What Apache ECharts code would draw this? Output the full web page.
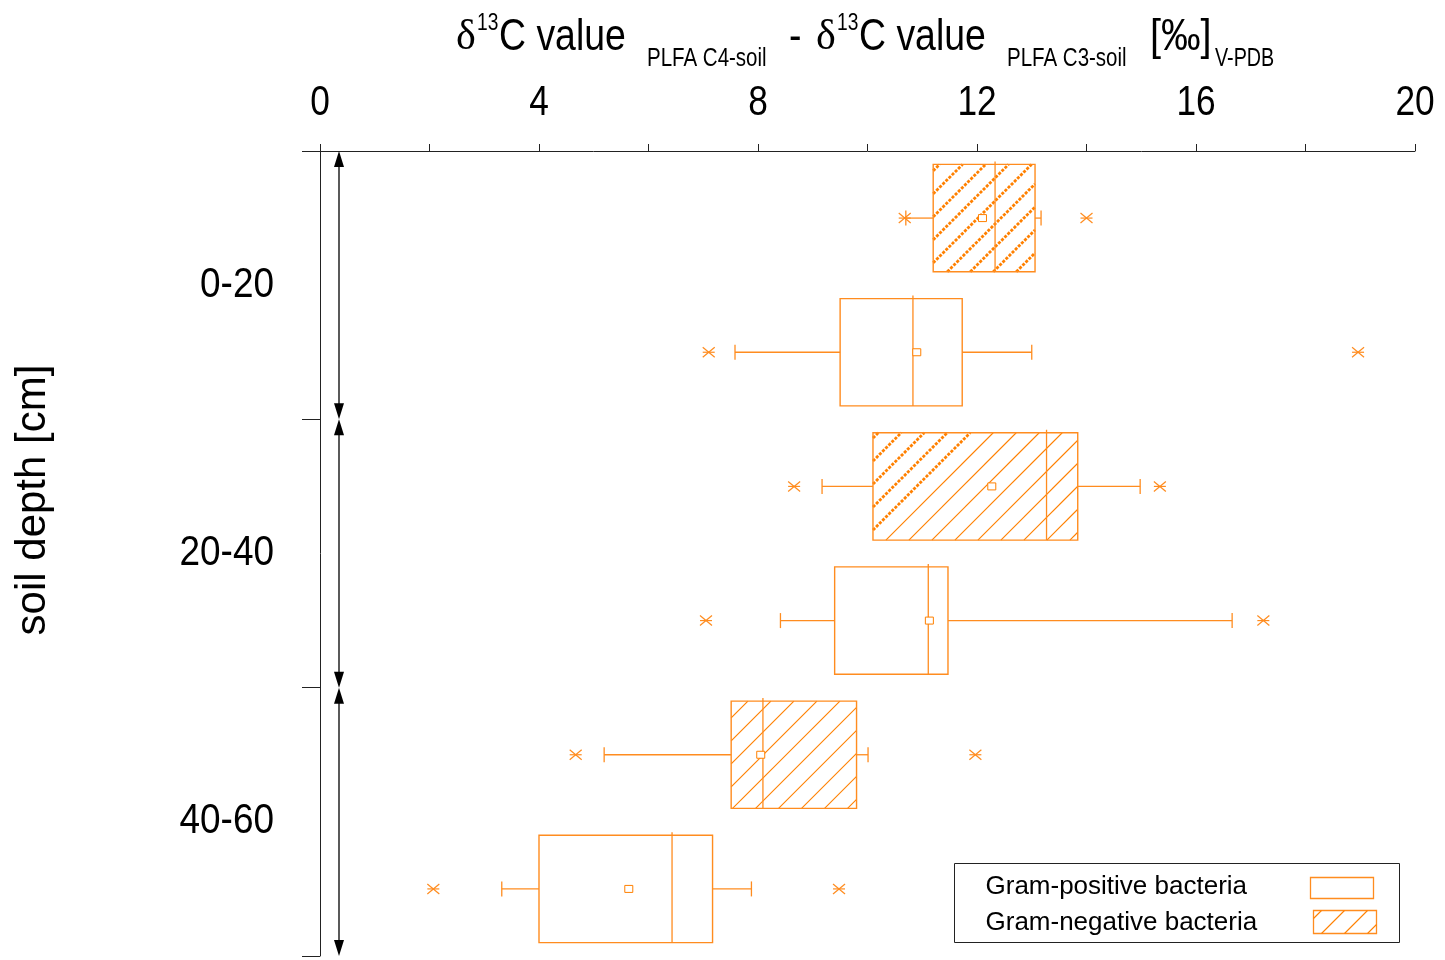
<!DOCTYPE html>
<html>
<head>
<meta charset="utf-8">
<script src="https://cdn.jsdelivr.net/npm/echarts@6/dist/echarts.min.js"></script>
<style>
  html, body { margin: 0; padding: 0; background: #fff; }
  #chart { width: 1445px; height: 960px; }
</style>
</head>
<body>
<div id="chart"></div>
<script>
// Soil depth classes (cm) and their boundaries
const depthLabels = ['0-20', '20-40', '40-60'];
const depthBounds = [0, 20, 40, 60];

// x axis (difference of delta13C values, per mil)
const xMin = 0, xMax = 20, xStep = 4;
const xTickValues = [0, 4, 8, 12, 16, 20];

// Gram-negative bacteria, one value per depth class
const gnExtremeLow  = [10.68, 8.66, 4.67];
const gnWhiskerLow  = [10.70, 9.17, 5.19];
const gnQ1          = [11.20, 10.10, 7.51];
const gnMedian      = [12.33, 13.27, 8.09];
const gnQ3          = [13.06, 13.84, 9.80];
const gnWhiskerHigh = [13.17, 14.98, 10.01];
const gnExtremeHigh = [14.00, 15.34, 11.97];
const gnMean        = [12.10, 12.27, 8.05];

// Gram-positive bacteria, one value per depth class
const gpExtremeLow  = [7.10, 7.05, 2.07];
const gpWhiskerLow  = [7.58, 8.41, 3.32];
const gpQ1          = [9.50, 9.40, 4.00];
const gpMedian      = [10.83, 11.11, 6.43];
const gpQ3          = [11.73, 11.47, 7.17];
const gpWhiskerHigh = [13.00, 16.66, 7.88];
const gpExtremeHigh = [18.96, 17.23, 9.48];
const gpMean        = [10.90, 11.13, 5.64];

// ---- styling ----
const ORANGE = '#ff8000';
const LINE = '#ff8c1f';
const SANS = "'Liberation Sans', Arial, sans-serif";
const SERIF = "'Liberation Serif', serif";
const CONDENSE = 0.82;          // horizontal squeeze for the condensed lettering
const HATCH_STEP = 23;
// stroke weight of the hatching, per depth class of the hatched series
const hatchWeight = ['all', 'left', 'none'];

// two box slots per depth class: Gram-negative on top, Gram-positive below
const slots = depthLabels.flatMap(d => [d + ' neg', d + ' pos']);

function rows(slotOffset, lo, wl, q1, md, q3, wh, hi, mean) {
  return depthLabels.map((_, i) => [2 * i + slotOffset, lo[i], wl[i], q1[i], md[i], q3[i], wh[i], hi[i], mean[i]]);
}
const gnData = rows(0, gnExtremeLow, gnWhiskerLow, gnQ1, gnMedian, gnQ3, gnWhiskerHigh, gnExtremeHigh, gnMean);
const gpData = rows(1, gpExtremeLow, gpWhiskerLow, gpQ1, gpMedian, gpQ3, gpWhiskerHigh, gpExtremeHigh, gpMean);

// 45 degree "/" hatching clipped to a rectangle
function hatchLines(x0, y0, x1, y1, rule) {
  const out = [];
  const start = Math.ceil((x0 + y0) / HATCH_STEP) * HATCH_STEP;
  for (let c = start; c < x1 + y1; c += HATCH_STEP) {
    const ax = Math.max(x0, c - y1), bx = Math.min(x1, c - y0);
    if (bx - ax < 1) continue;
    const fromLeft = (c - x0) < y1;
    const heavy = rule === 'all' || (rule === 'left' && fromLeft);
    out.push({
      type: 'line', silent: true,
      shape: { x1: ax, y1: c - ax, x2: bx, y2: c - bx },
      style: { stroke: ORANGE, lineWidth: heavy ? 2.8 : 1.1, lineDash: heavy ? [3, 1.4] : null }
    });
  }
  return out;
}

function seg(x1, y1, x2, y2, w) {
  return { type: 'line', silent: true, shape: { x1, y1, x2, y2 }, style: { stroke: LINE, lineWidth: w || 1.3 } };
}

function cross(x, y) {
  return [seg(x - 6, y - 5, x + 6, y + 5, 1.2), seg(x - 6, y + 5, x + 6, y - 5, 1.2), seg(x - 6, y, x + 6, y, 1.2)];
}

function boxRenderer(hatched) {
  return function (params, api) {
    const slot = api.value(0);
    const px = v => api.coord([v, slot])[0];
    const yc = api.coord([0, slot])[1];
    const h = api.size([0, 1])[1] * 0.8;
    const top = yc - h / 2, bot = yc + h / 2;
    const lo = px(api.value(1)), wl = px(api.value(2)), q1 = px(api.value(3)),
          md = px(api.value(4)), q3 = px(api.value(5)), wh = px(api.value(6)),
          hi = px(api.value(7)), mn = px(api.value(8));
    const cap = 7.5;
    const children = [
      { type: 'rect', silent: true, shape: { x: q1, y: top, width: q3 - q1, height: h }, style: { fill: '#fff' } }
    ];
    if (hatched) children.push(...hatchLines(q1, top, q3, bot, hatchWeight[params.dataIndex]));
    children.push(
      { type: 'rect', silent: true, shape: { x: q1, y: top, width: q3 - q1, height: h },
        style: { fill: null, stroke: LINE, lineWidth: 1.4 } },
      seg(md, top - 3, md, bot, 1.3),
      seg(wl, yc, q1, yc), seg(q3, yc, wh, yc),
      seg(wl, yc - cap, wl, yc + cap), seg(wh, yc - cap, wh, yc + cap),
      ...cross(lo, yc), ...cross(hi, yc),
      { type: 'rect', silent: true, shape: { x: mn - 4, y: yc - 3.5, width: 8, height: 7 },
        style: { fill: '#fff', stroke: ORANGE, lineWidth: 1 } }
    );
    return { type: 'group', children };
  };
}

// double-headed arrows spanning each depth class
function arrowRenderer(params, api) {
  const a = api.coord([0, api.value(0)]), b = api.coord([0, api.value(1)]);
  const x = a[0] + 19, y0 = a[1], y1 = b[1];
  return {
    type: 'group', children: [
      { type: 'line', silent: true, shape: { x1: x, y1: y0 + 8, x2: x, y2: y1 - 8 }, style: { stroke: '#000', lineWidth: 1.3 } },
      { type: 'polygon', silent: true, shape: { points: [[x, y0], [x - 5, y0 + 16], [x + 5, y0 + 16]] }, style: { fill: '#000' } },
      { type: 'polygon', silent: true, shape: { points: [[x, y1], [x - 5, y1 - 16], [x + 5, y1 - 16]] }, style: { fill: '#000' } }
    ]
  };
}
const arrowData = depthLabels.map((_, i) => [depthBounds[i], depthBounds[i + 1]]);

// condensed tick labels on the top axis
function xLabelRenderer(params, api) {
  const x = api.coord([api.value(0), 0])[0];
  return { type: 'text', silent: true, x, y: params.coordSys.y - 26, scaleX: CONDENSE,
    style: { text: String(api.value(0)), fontSize: 43, fontFamily: SANS, fill: '#000', align: 'center', verticalAlign: 'bottom' } };
}
// condensed depth-class labels, centred on each class
function depthLabelRenderer(params, api) {
  const y = api.coord([0, api.value(0)])[1];
  return { type: 'text', silent: true, x: params.coordSys.x - 46, y, scaleX: 0.88,
    style: { text: depthLabels[params.dataIndex], fontSize: 42, fontFamily: SANS, fill: '#000', align: 'right', verticalAlign: 'middle' } };
}
const depthMid = depthLabels.map((_, i) => [(depthBounds[i] + depthBounds[i + 1]) / 2]);

// axis title pieces
function titlePiece(text, x, y, size, family, squeeze) {
  return { type: 'text', x, y, scaleX: squeeze, silent: true,
    style: { text, fontSize: size, fontFamily: family, fill: '#000', verticalAlign: 'middle' } };
}

const chart = echarts.init(document.getElementById('chart'), null, { renderer: 'canvas' });
chart.setOption({
  animation: false,
  backgroundColor: '#fff',
  grid: { left: 320, right: 30, top: 151, bottom: 4, containLabel: false },
  xAxis: {
    type: 'value', position: 'top', min: xMin, max: xMax, interval: xStep,
    axisLine: { show: true, lineStyle: { color: '#222', width: 1 } },
    axisTick: { show: true, inside: false, length: 7, lineStyle: { color: '#222' } },
    minorTick: { show: true, splitNumber: 2, length: 7, lineStyle: { color: '#222' } },
    splitLine: { show: false },
    axisLabel: { show: false }
  },
  yAxis: [
    { type: 'category', data: slots, inverse: true, show: false, boundaryGap: true },
    {
      type: 'value', min: depthBounds[0], max: depthBounds[depthBounds.length - 1], interval: 20, inverse: true,
      position: 'left',
      axisLine: { show: true, onZero: false, lineStyle: { color: '#222', width: 1 } },
      axisTick: { show: true, inside: false, length: 18, lineStyle: { color: '#222' } },
      axisLabel: { show: false }, splitLine: { show: false }
    }
  ],
  series: [
    { name: 'Gram-negative bacteria', type: 'custom', xAxisIndex: 0, yAxisIndex: 0,
      renderItem: boxRenderer(true), data: gnData, clip: false, encode: { x: [1, 2, 3, 4, 5, 6, 7, 8], y: 0 } },
    { name: 'Gram-positive bacteria', type: 'custom', xAxisIndex: 0, yAxisIndex: 0,
      renderItem: boxRenderer(false), data: gpData, clip: false, encode: { x: [1, 2, 3, 4, 5, 6, 7, 8], y: 0 } },
    { name: 'depth', type: 'custom', xAxisIndex: 0, yAxisIndex: 1,
      renderItem: arrowRenderer, data: arrowData, clip: false, encode: { x: -1, y: [0, 1] } },
    { name: 'x labels', type: 'custom', xAxisIndex: 0, yAxisIndex: 0,
      renderItem: xLabelRenderer, data: xTickValues.map(v => [v]), clip: false, encode: { x: 0, y: -1 } },
    { name: 'depth labels', type: 'custom', xAxisIndex: 0, yAxisIndex: 1,
      renderItem: depthLabelRenderer, data: depthMid, clip: false, encode: { x: -1, y: 0 } }
  ],
  graphic: [
    // axis title (top)
    titlePiece('δ', 456, 38, 42, SERIF, 1),
    titlePiece('13', 477, 23, 24, SANS, 0.8),
    titlePiece('C value', 499, 38, 44, SANS, 0.85),
    titlePiece('PLFA C4-soil', 647, 59, 25, SANS, 0.82),
    titlePiece('-', 789, 38, 44, SANS, 0.85),
    titlePiece('δ', 816, 38, 42, SERIF, 1),
    titlePiece('13', 837, 23, 24, SANS, 0.8),
    titlePiece('C value', 859, 38, 44, SANS, 0.85),
    titlePiece('PLFA C3-soil', 1007, 59, 25, SANS, 0.82),
    titlePiece('[‰]', 1150, 38, 44, SANS, 0.9),
    titlePiece('V-PDB', 1215, 59, 25, SANS, 0.79),
    // axis title (left)
    { type: 'text', x: 33, y: 500, rotation: Math.PI / 2, silent: true,
      style: { text: 'soil depth [cm]', fontSize: 42, fontFamily: SANS, fill: '#000', align: 'center', verticalAlign: 'middle' } },
    // legend
    { type: 'group', left: 954, top: 863, silent: true, children: [
      { type: 'rect', shape: { x: 0, y: 0, width: 445, height: 79 }, style: { fill: '#fff', stroke: '#222', lineWidth: 1 } },
      { type: 'text', x: 31, y: 23, style: { text: 'Gram-positive bacteria', fontSize: 26, fontFamily: SANS, fill: '#000', verticalAlign: 'middle' } },
      { type: 'text', x: 31, y: 59, style: { text: 'Gram-negative bacteria', fontSize: 26, fontFamily: SANS, fill: '#000', verticalAlign: 'middle' } },
      { type: 'rect', shape: { x: 356, y: 14, width: 63, height: 21 }, style: { fill: '#fff', stroke: LINE, lineWidth: 1.3 } },
      { type: 'rect', shape: { x: 359, y: 47, width: 63, height: 23 }, style: { fill: '#fff', stroke: LINE, lineWidth: 1.3 } },
      ...hatchLines(359, 47, 422, 70, 'none')
    ] }
  ]
});
</script>
</body>
</html>
